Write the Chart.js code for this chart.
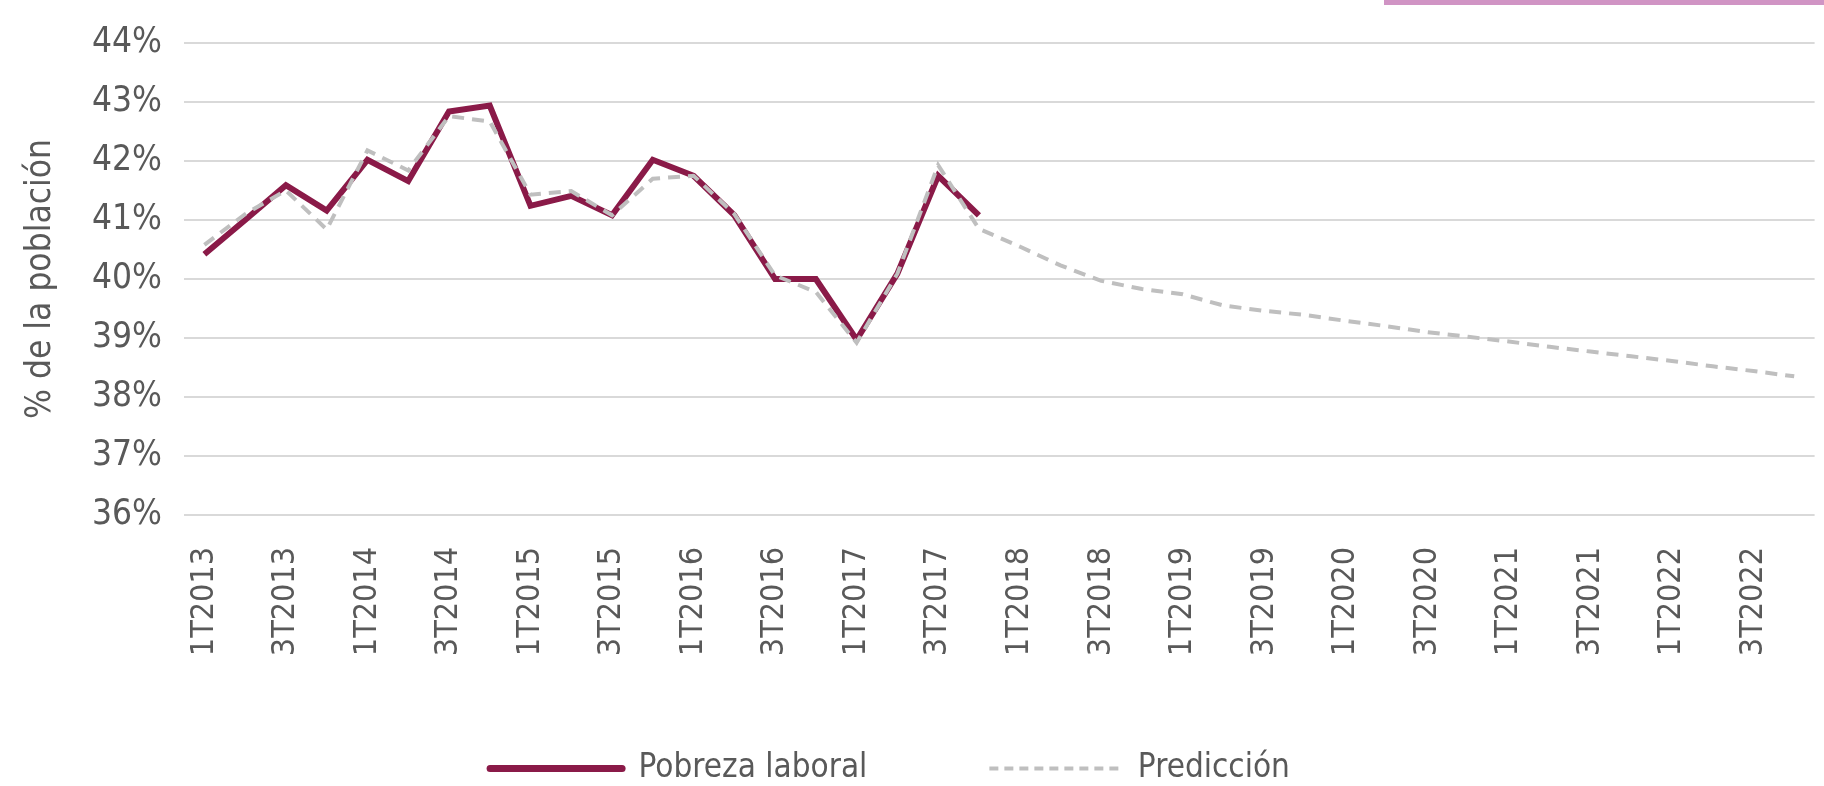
<!DOCTYPE html>
<html lang="es">
<head>
  <meta charset="UTF-8">
  <title>Pobreza laboral – predicción</title>
  <script src="https://cdn.jsdelivr.net/npm/chart.js"></script>
  <style>
    body {
      margin: 0;
      padding: 0;
      background: #ffffff;
    }
    .wrap {
      position: relative;
      width: 1824px;
      height: 786px;
    }
    .topbar {
      position: absolute;
      left: 1384px;
      top: 0;
      width: 440px;
      height: 5px;
      background: #d094c4;
    }
  </style>
</head>
<body>
  <div class="wrap">
    <div class="topbar"></div>
    <canvas id="pobrezaChart"></canvas>
  </div>
  <script>
    // trimestres 1T2013 .. 4T2022
    const trimestres = [
      '1T2013', '2T2013', '3T2013', '4T2013',
      '1T2014', '2T2014', '3T2014', '4T2014',
      '1T2015', '2T2015', '3T2015', '4T2015',
      '1T2016', '2T2016', '3T2016', '4T2016',
      '1T2017', '2T2017', '3T2017', '4T2017',
      '1T2018', '2T2018', '3T2018', '4T2018',
      '1T2019', '2T2019', '3T2019', '4T2019',
      '1T2020', '2T2020', '3T2020', '4T2020',
      '1T2021', '2T2021', '3T2021', '4T2021',
      '1T2022', '2T2022', '3T2022', '4T2022'
    ];

    // % de la población
    const pobrezaLaboral = [
      40.42, 41.0, 41.59, 41.16,
      42.02, 41.66, 42.84, 42.94,
      41.24, 41.41, 41.08, 42.02,
      41.75, 41.08, 40.0, 40.0,
      38.97, 40.09, 41.75, 41.08
    ];

    const prediccion = [
      40.58, 41.1, 41.5, 40.84,
      42.18, 41.84, 42.76, 42.67,
      41.43, 41.49, 41.08, 41.70,
      41.75, 41.1, 40.06, 39.78,
      38.92, 40.09, 41.93, 40.85,
      40.55, 40.23, 39.97, 39.83,
      39.74, 39.55, 39.46, 39.39,
      39.29, 39.2, 39.1, 39.02,
      38.94, 38.85, 38.77, 38.69,
      38.61, 38.52, 38.44, 38.35
    ];

    const yMin = 36;
    const yMax = 44;

    const fontFamily = '"Liberation Sans Narrow", "DejaVu Sans Condensed", "Roboto", sans-serif';
    const textColor = '#595959';

    new Chart(document.getElementById('pobrezaChart'), {
      type: 'line',
      data: {
        labels: trimestres,
        datasets: [{
          label: 'Pobreza laboral',
          data: pobrezaLaboral,
          borderColor: '#8a1a48',
          backgroundColor: '#8a1a48',
          borderWidth: 6,
          pointRadius: 0,
          tension: 0,
          order: 2
        }, {
          label: 'Predicción',
          data: prediccion,
          borderColor: '#bfbfbf',
          backgroundColor: '#bfbfbf',
          borderWidth: 4,
          borderDash: [12, 8],
          pointRadius: 0,
          tension: 0,
          order: 1
        }]
      },
      options: {
        responsive: true,
        maintainAspectRatio: false,
        animation: false,
        layout: {
          // left negativo: la leyenda queda algo a la izquierda del centro
          padding: { top: 32, right: 4, bottom: -9, left: -40 }
        },
        plugins: {
          tooltip: { enabled: false },
          legend: {
            position: 'bottom',
            labels: {
              usePointStyle: true,
              pointStyleWidth: 132,
              padding: 122,
              color: textColor,
              font: { family: fontFamily, size: 33 },
              sort: (a, b) => a.datasetIndex - b.datasetIndex,
              // muestra la línea (y el guion) de cada serie
              generateLabels(chart) {
                const items = Chart.defaults.plugins.legend.labels.generateLabels(chart);
                items.forEach(item => {
                  const ds = chart.data.datasets[item.datasetIndex];
                  item.pointStyle = 'line';
                  item.lineDash = ds.borderDash ? [9, 6] : [];
                  item.lineWidth = ds.borderDash ? 4 : 7;
                  item.strokeStyle = ds.borderColor;
                  item.lineCap = ds.borderDash ? 'butt' : 'round';
                });
                return items;
              }
            }
          }
        },
        scales: {
          x: {
            offset: true,
            grid: { display: false, drawTicks: false },
            border: { display: false },
            afterFit(scale) {
              scale.height = 115;
              // las etiquetas pasan por debajo de la caja del eje
              scale._computeLabelArea = () => undefined;
            },
            ticks: {
              autoSkip: false,
              minRotation: 90,
              maxRotation: 90,
              padding: 32,
              color: textColor,
              font: { family: fontFamily, size: 32 },
              callback(value, index) {
                return index % 2 === 0 ? this.getLabelForValue(value) : null;
              }
            }
          },
          y: {
            min: yMin,
            max: yMax,
            afterFit(scale) { scale.width = 224; },
            grid: { color: '#d9d9d9', lineWidth: 2, drawTicks: false },
            border: { display: false },
            ticks: {
              stepSize: 1,
              padding: 22,
              color: textColor,
              font: { family: fontFamily, size: 35 },
              callback: v => v + '%'
            },
            title: {
              display: true,
              text: '% de la población',
              color: textColor,
              padding: { top: 60, bottom: 0 },
              font: { family: fontFamily, size: 35 }
            }
          }
        }
      }
    });
  </script>
</body>
</html>
